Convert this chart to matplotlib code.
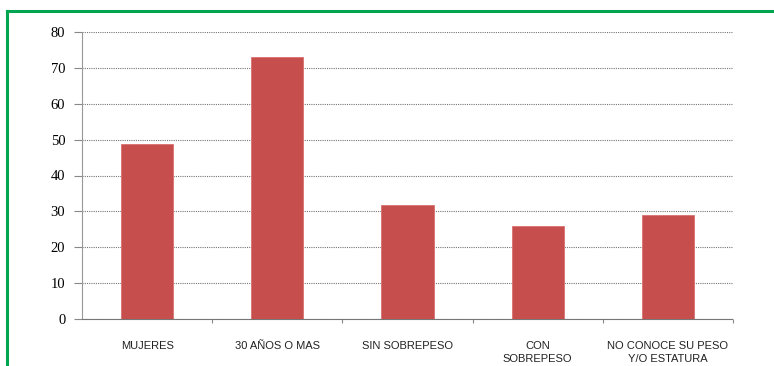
import matplotlib.pyplot as plt
from matplotlib.lines import Line2D
import numpy as np

categories = ['MUJERES', '30 AÑOS O MAS', 'SIN SOBREPESO', 'CON\nSOBREPESO', 'NO CONOCE SU PESO\nY/O ESTATURA']
values = [48.7, 73.0, 31.8, 26.0, 28.9]
y_ticks = [0, 10, 20, 30, 40, 50, 60, 70, 80]

fig = plt.figure(figsize=(7.74, 3.66), dpi=100)
ax = fig.add_axes([82 / 774, 1 - 319 / 366, (733 - 82) / 774, (319 - 32) / 366])

x = np.arange(len(categories))
ax.bar(x, values, width=0.4, color='#c64f4d', edgecolor='#d87270', linewidth=0.6, zorder=3)

ax.set_xlim(-0.5, len(categories) - 0.5)
ax.set_ylim(0, 80)
ax.set_yticks(y_ticks)
ax.set_yticklabels([str(v) for v in y_ticks], fontfamily='Liberation Serif', fontsize=10.5)
ax.tick_params(axis='y', length=6, width=0.8, color='#888888', pad=6)

ax.set_xticks(x)
ax.set_xticklabels(categories, fontfamily='Liberation Sans', fontsize=8, color='#222222',
                   linespacing=1.35, va='top')
ax.tick_params(axis='x', which='major', length=0, pad=16)
ax.set_xticks(np.arange(0.5, len(categories), 1.0), minor=True)
ax.tick_params(axis='x', which='minor', length=3, width=0.8, color='#888888')

ax.yaxis.grid(True, linestyle=(0, (1, 1)), color='#777777', linewidth=0.8, zorder=0)
ax.set_axisbelow(True)
for side in ['top', 'right']:
    ax.spines[side].set_visible(False)
ax.spines['left'].set_color('#999999')
ax.spines['left'].set_linestyle((0, (1, 1)))
ax.spines['bottom'].set_color('#777777')
ax.spines['bottom'].set_linestyle((0, (1, 1)))

# green frame (top and left edges visible)
fig.add_artist(Line2D([7 / 774, 1.0], [1 - 11 / 366, 1 - 11 / 366], color='#00a550', linewidth=2.2,
                      transform=fig.transFigure))
fig.add_artist(Line2D([7 / 774, 7 / 774], [1 - 11 / 366, 0.0], color='#00a550', linewidth=2.2,
                      transform=fig.transFigure))

plt.savefig('out.png', dpi=100)
